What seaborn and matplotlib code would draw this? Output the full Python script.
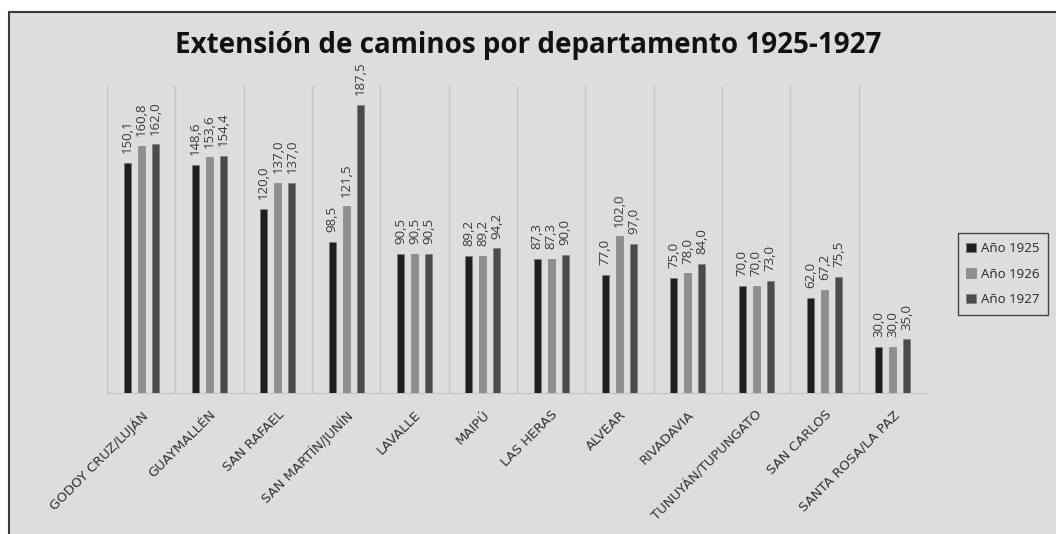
import seaborn as sns
import matplotlib.pyplot as plt
import pandas as pd
from matplotlib.patches import Rectangle

departamentos = ['GODOY CRUZ/LUJÁN', 'GUAYMALLÉN', 'SAN RAFAEL', 'SAN MARTÍN/JUNÍN',
                 'LAVALLE', 'MAIPÚ', 'LAS HERAS', 'ALVEAR', 'RIVADAVIA',
                 'TUNUYÁN/TUPUNGATO', 'SAN CARLOS', 'SANTA ROSA/LA PAZ']
anio_1925 = [150.1, 148.6, 120.0, 98.5, 90.5, 89.2, 87.3, 77.0, 75.0, 70.0, 62.0, 30.0]
anio_1926 = [160.8, 153.6, 137.0, 121.5, 90.5, 89.2, 87.3, 102.0, 78.0, 70.0, 67.2, 30.0]
anio_1927 = [162.0, 154.4, 137.0, 187.5, 90.5, 94.2, 90.0, 97.0, 84.0, 73.0, 75.5, 35.0]
series = ['Año 1925', 'Año 1926', 'Año 1927']
colores = ['#1f1f1f', '#8e8e8e', '#4b4b4b']

df = pd.DataFrame({
    'dep': departamentos * 3,
    'serie': [s for s in series for _ in departamentos],
    'km': anio_1925 + anio_1926 + anio_1927,
})

bg = '#dddddd'
sns.set_style('white')
plt.rcParams['font.family'] = ['Open Sans', 'DejaVu Sans']

fig = plt.figure(figsize=(10.56, 5.34), dpi=100, facecolor='white')
# gray chart area with a border on top/left
fig.patches.append(Rectangle((9 / 1056, -0.1), 1.2, 1 - 12 / 534 + 0.1, transform=fig.transFigure,
                             facecolor=bg, edgecolor='#3a3a3a', linewidth=1.5, zorder=-5))

ax = fig.add_axes([107 / 1056, 1 - 393 / 534, 820 / 1056, 307 / 534])
ax.set_facecolor(bg)
sns.barplot(data=df, x='dep', y='km', hue='serie', palette=colores, width=0.62, gap=0.5,
            ax=ax, saturation=1, edgecolor='#777777', linewidth=0.4, zorder=3)

for cont in ax.containers:
    ax.bar_label(cont, labels=[f'{v:.1f}'.replace('.', ',') for v in cont.datavalues],
                 rotation=90, padding=7, fontsize=9.5, color='#3a3a3a')

ax.set_ylim(0, 200)
ax.set_xlim(-0.5, len(departamentos) - 0.5)
ax.set_yticks([])
ax.set_xlabel('')
ax.set_ylabel('')
for s in ['top', 'right', 'left']:
    ax.spines[s].set_visible(False)
ax.spines['bottom'].set_color('#c4c4c4')
ax.set_xticks([i - 0.5 for i in range(len(departamentos) + 1)], minor=True)
ax.grid(which='minor', axis='x', color='#c4c4c4', linewidth=1, zorder=0)
ax.tick_params(axis='x', which='major', length=0, pad=11)
ax.tick_params(axis='x', which='minor', length=5, color='#c4c4c4', direction='out')
ax.set_xticks(range(len(departamentos)))
ax.set_xticklabels(departamentos, rotation=45, ha='right', rotation_mode='anchor',
                   fontsize=9.5, color='#333333', family='DejaVu Sans')

fig.text(0.5, 1 - 45 / 534, 'Extensión de caminos por departamento 1925-1927',
         ha='center', va='center', fontsize=20, fontweight='bold', color='#111111')

ax.legend(loc='center', bbox_to_anchor=(1003 / 1056, 1 - 274 / 534), bbox_transform=fig.transFigure,
          frameon=True, fancybox=False, edgecolor='#444444', facecolor=bg, framealpha=1,
          fontsize=9.5, handlelength=0.7, handleheight=0.7, handletextpad=0.4,
          labelspacing=0.95, borderpad=0.65, title=None)

fig.savefig('out.png', dpi=100, facecolor='white')
